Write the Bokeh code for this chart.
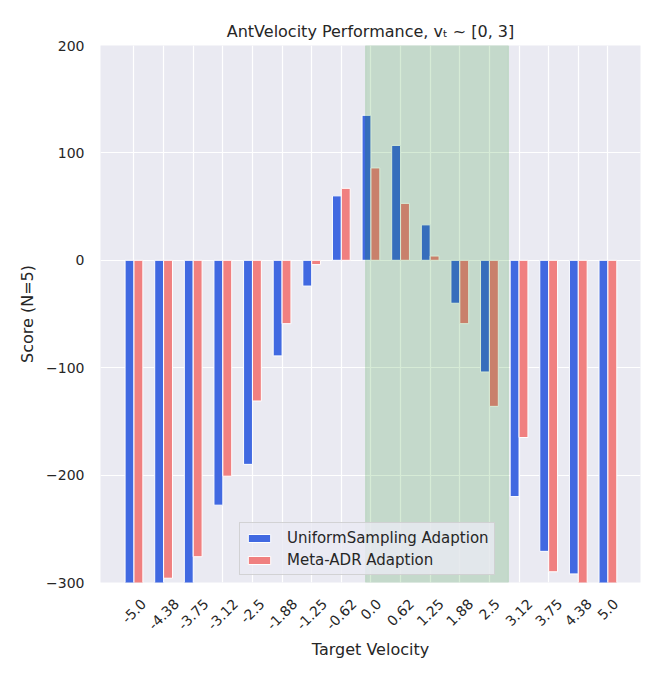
import math
from bokeh.plotting import figure
from bokeh.models import (ColumnDataSource, FixedTicker, BoxAnnotation, Legend,
                          LegendItem, Range1d, CustomJSTickFormatter)
from bokeh.transform import dodge
from bokeh.embed import file_html
from bokeh.resources import INLINE

# ---------------- data ----------------
velocity_labels = ["-5.0", "-4.38", "-3.75", "-3.12", "-2.5", "-1.88", "-1.25", "-0.62",
                   "0.0", "0.62", "1.25", "1.88", "2.5", "3.12", "3.75", "4.38", "5.0"]
uniform_scores = [-340, -330, -320, -228, -190, -89, -24, 60, 135, 107, 33, -40, -104,
                  -220, -271, -292, -335]
metaadr_scores = [-330, -296, -276, -201, -131, -59, -4, 67, 86, 53, 4, -59, -136,
                  -165, -290, -315, -325]
train_span = [7.82, 12.64]          # shaded training region (in category index units)
y_ticks = [-300, -200, -100, 0, 100, 200]
series_names = ["UniformSampling Adaption", "Meta-ADR Adaption"]

FONT = "DejaVu Sans"
TXT = "#262626"
X0, X1 = -1.13, 17.1
FRAME_W = 540

idx = list(range(len(velocity_labels)))
src = ColumnDataSource(dict(x=idx, uniform=uniform_scores, meta=metaadr_scores))

p = figure(width=660, height=676, output_backend="svg", toolbar_location=None,
           x_range=Range1d(X0, X1), y_range=Range1d(-300, 200),
           min_border_left=100, min_border_right=20, min_border_top=45, min_border_bottom=94,
           background_fill_color="#EAEAF2", border_fill_color="white",
           outline_line_color=None)

p.title.text = "AntVelocity Performance, vₜ ~ [0, 3]"
p.title.text_font = FONT
p.title.text_font_size = "16px"
p.title.text_font_style = "normal"
p.title.text_color = TXT
p.title.align = "center"
p.title.standoff = 9

# grid
p.xgrid.ticker = FixedTicker(ticks=idx)
p.ygrid.ticker = FixedTicker(ticks=y_ticks)
p.grid.grid_line_color = "white"
p.grid.grid_line_width = 1.2

# bars
r1 = p.vbar(x=dodge("x", -0.15, range=p.x_range), top="uniform", bottom=0, width=0.3,
            source=src, fill_color="#4169E1", line_color="white", line_width=1)
r2 = p.vbar(x=dodge("x", 0.15, range=p.x_range), top="meta", bottom=0, width=0.3,
            source=src, fill_color="#F08080", line_color="white", line_width=1)

# shaded span
p.add_layout(BoxAnnotation(left=train_span[0], right=train_span[1],
                           fill_color="green", fill_alpha=0.16,
                           line_color="green", line_alpha=0.12, line_width=1))

# axes
p.yaxis.ticker = FixedTicker(ticks=y_ticks)
p.yaxis.major_label_overrides = {t: str(t).replace("-", "\u2212") for t in y_ticks}

# x tick labels: Bokeh anchors rotated labels at their right end; shift each tick
# so that the label's centre sits on the category (matplotlib-style centring)
em = {"-": 0.361, ".": 0.318}
px_per_unit = FRAME_W / (X1 - X0)
def centre_shift(s):
    w = sum(em.get(c, 0.636) for c in s) * 14
    return (w / 2) * math.sqrt(0.5) / px_per_unit

p.xaxis.ticker = FixedTicker(ticks=[i + centre_shift(s) for i, s in zip(idx, velocity_labels)])
p.xaxis.formatter = CustomJSTickFormatter(args=dict(labels=velocity_labels),
                                          code="return labels[Math.round(tick - 0.35)];")
p.xaxis.major_label_orientation = math.pi / 4
for ax in (p.xaxis[0], p.yaxis[0]):
    ax.axis_line_color = None
    ax.major_tick_line_color = None
    ax.minor_tick_line_color = None
    ax.major_tick_out = 0
    ax.major_tick_in = 0
    ax.major_label_text_font = FONT
    ax.major_label_text_font_size = "14px"
    ax.major_label_text_color = TXT
    ax.axis_label_text_font = FONT
    ax.axis_label_text_font_size = "16px"
    ax.axis_label_text_font_style = "normal"
    ax.axis_label_text_color = TXT
p.yaxis.major_label_standoff = 16
p.yaxis.axis_label = "Score (N=5)"
p.yaxis.axis_label_standoff = 6
p.xaxis.axis_label = "Target Velocity"
p.xaxis.major_label_standoff = 19
p.xaxis.axis_label_standoff = 3

# legend
legend = Legend(items=[LegendItem(label=series_names[0], renderers=[r1]),
                       LegendItem(label=series_names[1], renderers=[r2])],
                location=(139, 7), orientation="vertical",
                background_fill_color="#EAEAF2", background_fill_alpha=0.8,
                border_line_color="#CCCCCC", border_line_alpha=0.8, border_line_width=1,
                label_text_font=FONT, label_text_font_size="15px", label_text_color=TXT,
                glyph_width=28, glyph_height=10, label_standoff=14,
                padding=5, spacing=3, margin=0, label_height=19)
p.add_layout(legend, "center")

open("out.html", "w").write(file_html(p, INLINE))
